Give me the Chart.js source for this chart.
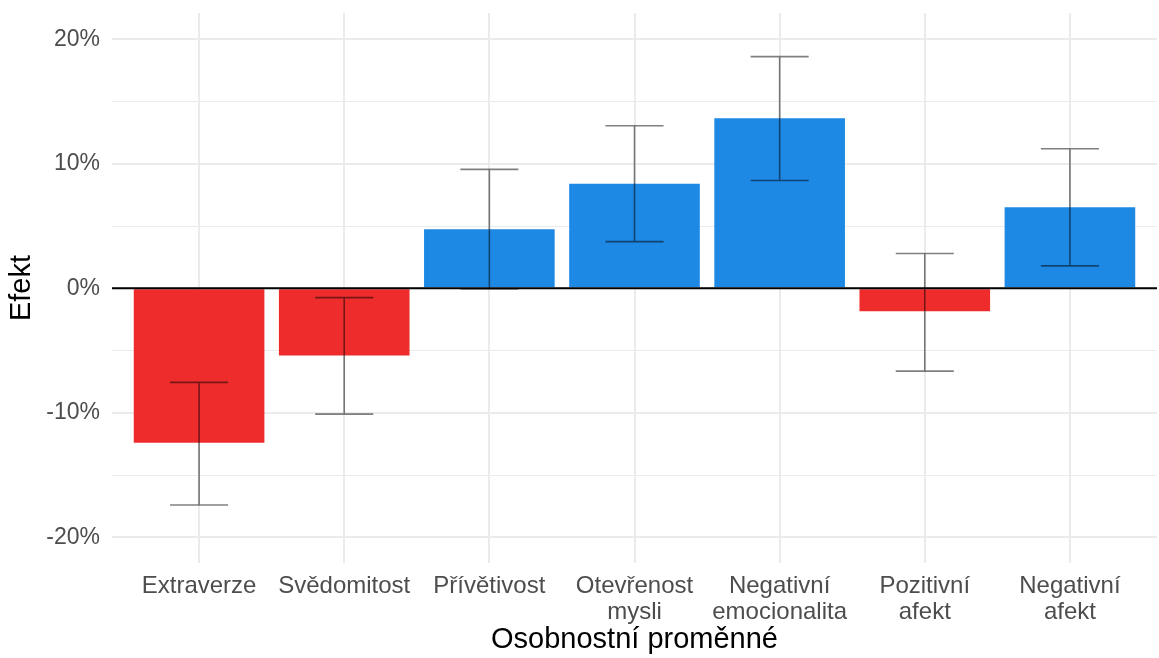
<!DOCTYPE html>
<html>
<head>
<meta charset="utf-8">
<script src="https://cdn.jsdelivr.net/npm/chart.js@4"></script>
<style>
  html, body { margin: 0; padding: 0; background: #ffffff; }
  canvas { display: block; }
</style>
</head>
<body>
<canvas id="c" width="1159" height="658"></canvas>
<script>
const categories = [
  'Extraverze',
  'Svědomitost',
  'Přívětivost',
  ['Otevřenost', 'mysli'],
  ['Negativní', 'emocionalita'],
  ['Pozitivní', 'afekt'],
  ['Negativní', 'afekt']
];
const effects = [-12.4, -5.4, 4.75, 8.4, 13.65, -1.85, 6.5];
const lowerCI = [-17.4, -10.1, -0.05, 3.75, 8.65, -6.65, 1.8];
const upperCI = [-7.55, -0.75, 9.55, 13.05, 18.6, 2.8, 11.2];
const yTicks = [-20, -15, -10, -5, 0, 5, 10, 15, 20];

const RED = '#EE2C2C';
const BLUE = '#1E88E5';
const FONT = "'Liberation Sans', Arial, sans-serif";

const errorBarPlugin = {
  id: 'errorBars',
  afterDatasetsDraw(chart) {
    const ctx = chart.ctx;
    const xs = chart.scales.x, ys = chart.scales.y;
    const area = chart.chartArea;
    ctx.save();
    const y0 = ys.getPixelForValue(0);
    ctx.strokeStyle = '#000000';
    ctx.lineWidth = 2;
    ctx.beginPath();
    ctx.moveTo(area.left, y0);
    ctx.lineTo(area.right, y0);
    ctx.stroke();
    ctx.strokeStyle = 'rgba(0,0,0,0.5)';
    ctx.lineWidth = 1.6;
    categories.forEach((c, i) => {
      const cx = xs.getPixelForValue(i);
      const xl = xs.getPixelForValue(i - 0.2);
      const xr = xs.getPixelForValue(i + 0.2);
      const yl = ys.getPixelForValue(lowerCI[i]);
      const yu = ys.getPixelForValue(upperCI[i]);
      ctx.beginPath();
      ctx.moveTo(cx, yu); ctx.lineTo(cx, yl);
      ctx.moveTo(xl, yu); ctx.lineTo(xr, yu);
      ctx.moveTo(xl, yl); ctx.lineTo(xr, yl);
      ctx.stroke();
    });
    ctx.restore();
  }
};

new Chart(document.getElementById('c'), {
  type: 'bar',
  data: {
    datasets: [{
      data: effects.map((v, i) => ({ x: i, y: v })),
      backgroundColor: effects.map(v => v < 0 ? RED : BLUE),
      borderWidth: 0,
      categoryPercentage: 0.9,
      barPercentage: 1.0
    }]
  },
  options: {
    responsive: false,
    devicePixelRatio: 1,
    animation: false,
    layout: { padding: { top: 13, right: 2, left: 0, bottom: 0 } },
    plugins: { legend: { display: false }, tooltip: { enabled: false } },
    scales: {
      x: {
        type: 'linear',
        min: -0.6,
        max: 6.6,
        offset: false,
        afterBuildTicks(scale) { scale.ticks = categories.map((c, i) => ({ value: i })); },
        afterFit(scale) { scale.height = 95; scale.paddingLeft = 0; scale.paddingRight = 0; },
        grid: { color: '#ebebeb', lineWidth: 2, drawTicks: false, offset: false },
        border: { display: false },
        ticks: {
          autoSkip: false,
          maxRotation: 0,
          padding: 10,
          color: '#4d4d4d',
          font: { family: FONT, size: 24, lineHeight: 1.1 },
          callback: (v) => categories[v]
        },
        title: {
          display: true,
          text: 'Osobnostní proměnné',
          color: '#000000',
          font: { family: FONT, size: 29 },
          padding: { top: 0, bottom: 1 }
        }
      },
      y: {
        min: -22.05,
        max: 22.1,
        afterBuildTicks(scale) { scale.ticks = yTicks.map(v => ({ value: v })); },
        afterFit(scale) { scale.width = 112; scale.paddingTop = 0; scale.paddingBottom = 0; },
        grid: {
          color: '#ebebeb',
          lineWidth: (ctx) => (ctx.tick && ctx.tick.value % 10 === 0) ? 2 : 1,
          drawTicks: false
        },
        border: { display: false },
        ticks: {
          padding: 12,
          color: '#4d4d4d',
          font: { family: FONT, size: 23 },
          callback: (v) => (v % 10 === 0) ? v + '%' : ''
        },
        title: {
          display: true,
          text: 'Efekt',
          color: '#000000',
          font: { family: FONT, size: 29 },
          padding: { top: 5, bottom: 0 }
        }
      }
    }
  },
  plugins: [errorBarPlugin]
});
</script>
</body>
</html>
